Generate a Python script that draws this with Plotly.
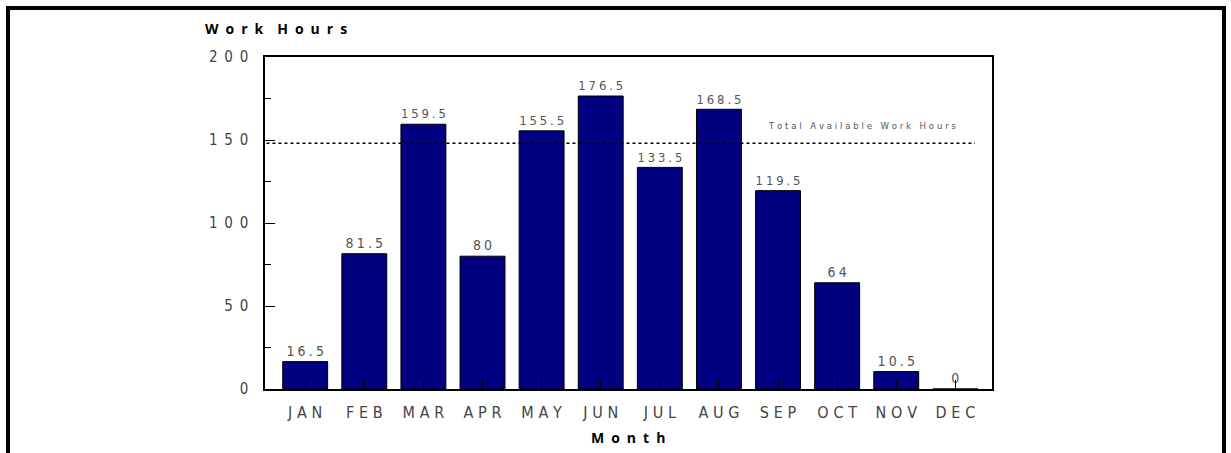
import plotly.graph_objects as go

months = ["JAN", "FEB", "MAR", "APR", "MAY", "JUN", "JUL", "AUG", "SEP", "OCT", "NOV", "DEC"]
hours = [16.5, 81.5, 159.5, 80, 155.5, 176.5, 133.5, 168.5, 119.5, 64, 10.5, 0]
available_hours = 148
y_ticks = [0, 50, 100, 150, 200]

EN = "\u2002"
EM = "\u2003"
THIRD = "\u2004"
QUART = "\u2005"

def spaced(s, sep=EN, word=None):
    words = str(s).split(" ")
    word = word if word is not None else sep * 2
    return word.join(sep.join(list(w)) for w in words)

def fmt(v):
    return str(int(v)) if float(v).is_integer() else str(v)

NARROW = "Liberation Sans Narrow, Arial Narrow, DejaVu Sans Condensed, sans-serif"
BOLD = "Open Sans, Liberation Sans, Arial, sans-serif"

W, H = 1231, 453
L, R, T, B = 265, 992, 57, 389

fig = go.Figure()
fig.add_trace(go.Bar(
    x=months, y=hours,
    marker=dict(color="#000080", line=dict(color="#000000", width=1)),
    text=[spaced(fmt(v), QUART) for v in hours],
    textposition="outside",
    textfont=dict(family=NARROW, size=14, color="#555555"),
    cliponaxis=False,
    hoverinfo="x+y",
))

def px_x(p):
    return (p - L) / (R - L)
def px_y(p):
    return (B - p) / (B - T)

fig.update_layout(
    width=W, height=H,
    margin=dict(l=L, r=W - R, t=T, b=H - B, pad=0),
    plot_bgcolor="white", paper_bgcolor="white",
    bargap=0.24,
    showlegend=False,
    xaxis=dict(
        range=[-0.68, 11.62],
        tickmode="array", tickvals=months, ticktext=[spaced(m, THIRD) for m in months],
        ticks="inside", ticklen=9, tickcolor="black", tickwidth=1,
        showline=True, linecolor="black", linewidth=1.5, mirror=True,
        showgrid=False, ticklabelstandoff=8,
        tickfont=dict(family=NARROW, size=16, color="#444444"),
    ),
    yaxis=dict(
        range=[0, 200], tickmode="array", tickvals=y_ticks,
        ticktext=[spaced(v, EN) for v in y_ticks],
        ticks="inside", ticklen=10, tickcolor="black", tickwidth=1,
        minor=dict(dtick=25, ticks="inside", ticklen=6, tickcolor="black", showgrid=False),
        showline=True, linecolor="black", linewidth=1.5, mirror=True,
        showgrid=False, zeroline=False, ticklabelstandoff=12,
        tickfont=dict(family=NARROW, size=15, color="#444444"),
    ),
    shapes=[
        dict(type="line", xref="paper", yref="y", x0=0.002, x1=px_x(975),
             y0=available_hours, y1=available_hours,
             line=dict(color="black", width=1.5, dash="dot")),
        dict(type="rect", xref="paper", yref="paper",
             x0=px_x(8), x1=px_x(1224), y0=px_y(470), y1=px_y(8),
             line=dict(color="black", width=4), layer="above"),
    ],
    annotations=[
        dict(text=spaced("Work Hours", EN, EM), xref="paper", yref="paper",
             x=px_x(203), y=px_y(28), xanchor="left", yanchor="middle", showarrow=False,
             font=dict(family=BOLD, size=14, color="black", weight="bold")),
        dict(text=spaced("Month", EN), xref="paper", yref="paper",
             x=px_x(628), y=px_y(437), xanchor="center", yanchor="middle", showarrow=False,
             font=dict(family=BOLD, size=14, color="black", weight="bold")),
        dict(text=spaced("Total Available Work Hours", THIRD, EN + EN),
             xref="paper", yref="y",
             x=px_x(862), y=158.5, xanchor="center", yanchor="middle", showarrow=False,
             font=dict(family=NARROW, size=9.5, color="#555555")),
    ],
)

fig.write_html("out.html")
